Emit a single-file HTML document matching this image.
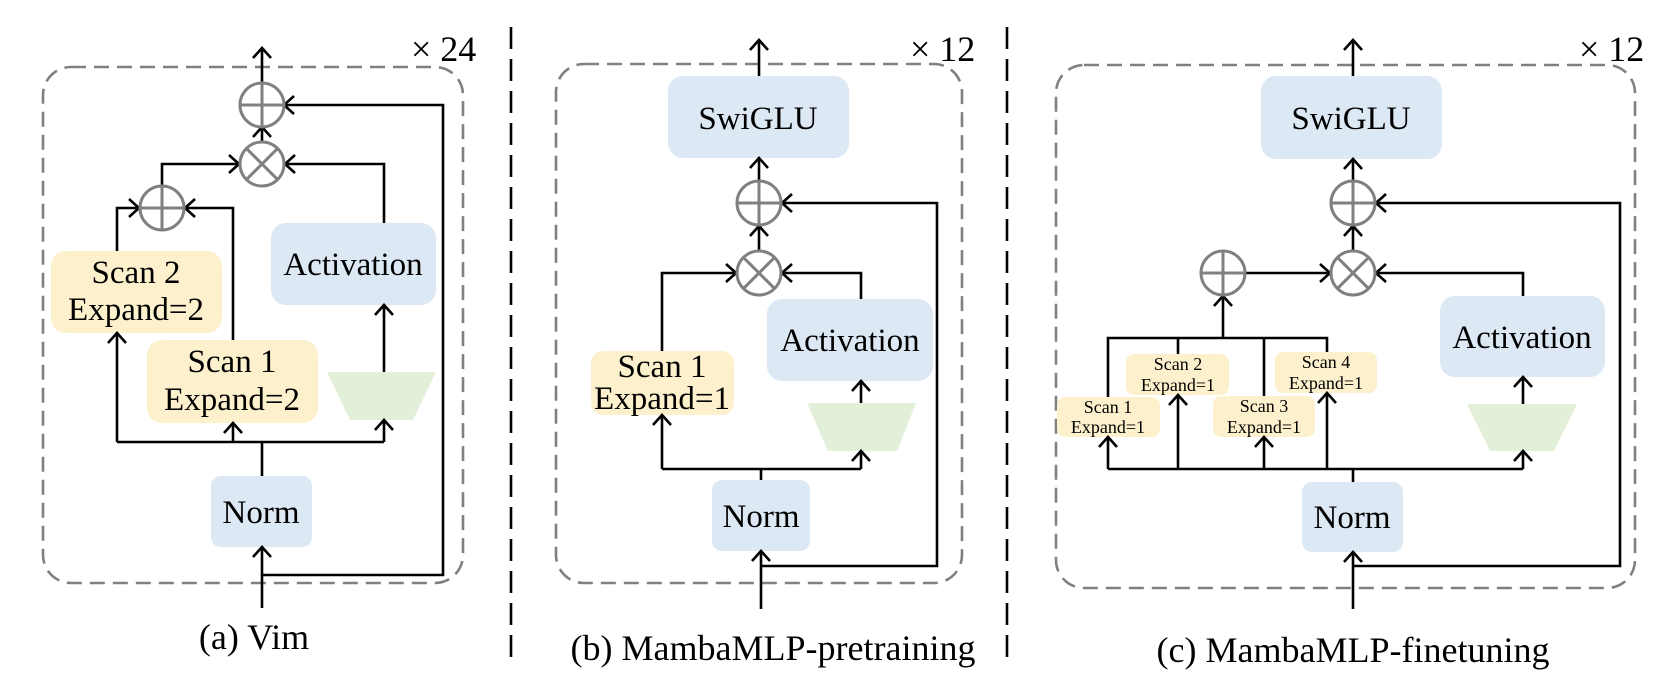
<!DOCTYPE html>
<html><head><meta charset="utf-8"><style>
html,body{margin:0;padding:0;background:#fff;}
svg{display:block;}
text{font-family:"Liberation Serif","DejaVu Serif",serif;fill:#000;}
</style></head><body>
<svg width="1675" height="682" viewBox="0 0 1675 682" xmlns="http://www.w3.org/2000/svg" font-family="Liberation Serif, DejaVu Serif, serif">
<defs>
<marker id="ar" viewBox="0 0 20 20" refX="17" refY="10" markerWidth="20" markerHeight="20" markerUnits="userSpaceOnUse" orient="auto">
<polyline points="7,1 17,10 7,19" fill="none" stroke="#000" stroke-width="2.6"/>
</marker>
</defs>
<g fill="none" stroke="#000" stroke-width="2.6">
<line x1="511" y1="27" x2="511" y2="660" stroke-dasharray="22,10"/>
<line x1="1007" y1="27" x2="1007" y2="660" stroke-dasharray="22,10"/>
</g>
<g fill="none" stroke="#808080" stroke-width="2.6" stroke-dasharray="15,8">
<rect x="43" y="67" width="420" height="516" rx="28"/>
<rect x="556" y="64" width="406" height="519" rx="28"/>
<rect x="1056" y="65" width="579" height="523" rx="28"/>
</g>
<g>
<rect x="51" y="251" width="171" height="82" rx="15" fill="#fdf1cd"/>
<rect x="147" y="340" width="171" height="83" rx="15" fill="#fdf1cd"/>
<rect x="271" y="223" width="165" height="82" rx="15" fill="#dde8f5"/>
<rect x="211" y="476" width="101" height="71" rx="10" fill="#dde8f5"/>
<polygon points="327,372 436,372 413,420 350,420" fill="#e2efd9"/>

<rect x="668" y="76" width="181" height="82" rx="15" fill="#dde8f5"/>
<rect x="591" y="351" width="143" height="64" rx="12" fill="#fdf1cd"/>
<rect x="767" y="299" width="166" height="82" rx="15" fill="#dde8f5"/>
<rect x="712" y="480" width="98" height="71" rx="10" fill="#dde8f5"/>
<polygon points="807,403 916,403 897,451 828,451" fill="#e2efd9"/>

<rect x="1261" y="76" width="181" height="83" rx="15" fill="#dde8f5"/>
<rect x="1440" y="296" width="165" height="81" rx="15" fill="#dde8f5"/>
<rect x="1302" y="482" width="101" height="70" rx="10" fill="#dde8f5"/>
<polygon points="1467,404 1577,404 1554,451 1490,451" fill="#e2efd9"/>
<rect x="1057" y="397" width="103" height="40" rx="8" fill="#fdf1cd"/>
<rect x="1126" y="354" width="103" height="41" rx="8" fill="#fdf1cd"/>
<rect x="1213" y="396" width="102" height="41" rx="8" fill="#fdf1cd"/>
<rect x="1275" y="352" width="102" height="41" rx="8" fill="#fdf1cd"/>
</g>
<g fill="none" stroke="#000" stroke-width="2.6">
<polyline points="262,82 262,48" marker-end="url(#ar)"/>
<polyline points="262,141 262,127" marker-end="url(#ar)"/>
<polyline points="262,608 262,547" marker-end="url(#ar)"/>
<polyline points="262,476 262,442"/>
<polyline points="117,442 384,442"/>
<polyline points="117,442 117,333" marker-end="url(#ar)"/>
<polyline points="233,442 233,423" marker-end="url(#ar)"/>
<polyline points="384,442 384,420" marker-end="url(#ar)"/>
<polyline points="384,372 384,305" marker-end="url(#ar)"/>
<polyline points="384,223 384,164 285,164" marker-end="url(#ar)"/>
<polyline points="117,251 117,208 139,208" marker-end="url(#ar)"/>
<polyline points="233,340 233,208 185,208" marker-end="url(#ar)"/>
<polyline points="162,185 162,164 239,164" marker-end="url(#ar)"/>
<polyline points="262,575 443,575 443,105 284,105" marker-end="url(#ar)"/>

<polyline points="759,76 759,40" marker-end="url(#ar)"/>
<polyline points="759,180 759,158" marker-end="url(#ar)"/>
<polyline points="759,250 759,226" marker-end="url(#ar)"/>
<polyline points="761,609 761,551" marker-end="url(#ar)"/>
<polyline points="761,480 761,469"/>
<polyline points="662,469 861,469"/>
<polyline points="662,469 662,415" marker-end="url(#ar)"/>
<polyline points="861,469 861,451" marker-end="url(#ar)"/>
<polyline points="861,403 861,381" marker-end="url(#ar)"/>
<polyline points="861,299 861,273 782,273" marker-end="url(#ar)"/>
<polyline points="662,351 662,273 736,273" marker-end="url(#ar)"/>
<polyline points="761,566 937,566 937,203 782,203" marker-end="url(#ar)"/>

<polyline points="1353,76 1353,40" marker-end="url(#ar)"/>
<polyline points="1353,180 1353,159" marker-end="url(#ar)"/>
<polyline points="1353,250 1353,226" marker-end="url(#ar)"/>
<polyline points="1353,609 1353,552" marker-end="url(#ar)"/>
<polyline points="1353,482 1353,469"/>
<polyline points="1108,469 1523,469"/>
<polyline points="1108,469 1108,437" marker-end="url(#ar)"/>
<polyline points="1178,469 1178,395" marker-end="url(#ar)"/>
<polyline points="1264,469 1264,437" marker-end="url(#ar)"/>
<polyline points="1327,469 1327,393" marker-end="url(#ar)"/>
<polyline points="1523,469 1523,451" marker-end="url(#ar)"/>
<polyline points="1523,404 1523,377" marker-end="url(#ar)"/>
<polyline points="1523,296 1523,273 1376,273" marker-end="url(#ar)"/>
<polyline points="1108,397 1108,338 1327,338 1327,352"/>
<polyline points="1178,338 1178,354"/>
<polyline points="1264,338 1264,396"/>
<polyline points="1223,338 1223,296" marker-end="url(#ar)"/>
<polyline points="1246,273 1330,273" marker-end="url(#ar)"/>
<polyline points="1353,566 1620,566 1620,203 1376,203" marker-end="url(#ar)"/>
</g>
<g fill="#fff" stroke="#808080" stroke-width="3">
<circle cx="262" cy="105" r="22"/><path d="M240,105H284M262,83V127"/>
<circle cx="262" cy="164" r="22"/><path d="M246.4,148.4L277.6,179.6M277.6,148.4L246.4,179.6"/>
<circle cx="162" cy="208" r="22"/><path d="M140,208H184M162,186V230"/>

<circle cx="759" cy="203" r="22"/><path d="M737,203H781M759,181V225"/>
<circle cx="759" cy="273" r="22"/><path d="M743.4,257.4L774.6,288.6M774.6,257.4L743.4,288.6"/>

<circle cx="1353" cy="203" r="22"/><path d="M1331,203H1375M1353,181V225"/>
<circle cx="1353" cy="273" r="22"/><path d="M1337.4,257.4L1368.6,288.6M1368.6,257.4L1337.4,288.6"/>
<circle cx="1223" cy="273" r="22"/><path d="M1201,273H1245M1223,251V295"/>
</g>
<g font-size="33" text-anchor="middle" font-family="Liberation Serif, DejaVu Serif, serif">
<text x="136" y="283">Scan 2</text>
<text x="136" y="320">Expand=2</text>
<text x="232" y="372">Scan 1</text>
<text x="232" y="410">Expand=2</text>
<text x="353" y="275">Activation</text>
<text x="261" y="523">Norm</text>

<text x="758" y="129">SwiGLU</text>
<text x="662" y="377">Scan 1</text>
<text x="662" y="409">Expand=1</text>
<text x="850" y="351">Activation</text>
<text x="761" y="527">Norm</text>

<text x="1351" y="129">SwiGLU</text>
<text x="1522" y="348">Activation</text>
<text x="1352" y="528">Norm</text>
</g>
<g font-size="18" text-anchor="middle" font-family="Liberation Serif, DejaVu Serif, serif">
<text x="1108" y="413">Scan 1</text>
<text x="1108" y="433">Expand=1</text>
<text x="1178" y="370">Scan 2</text>
<text x="1178" y="391">Expand=1</text>
<text x="1264" y="412">Scan 3</text>
<text x="1264" y="433">Expand=1</text>
<text x="1326" y="368">Scan 4</text>
<text x="1326" y="389">Expand=1</text>
</g>
<g font-size="36" font-family="Liberation Serif, DejaVu Serif, serif">
<text x="411" y="61">× 24</text>
<text x="910" y="61">× 12</text>
<text x="1579" y="61">× 12</text>
</g>
<g font-size="36" text-anchor="middle" font-family="Liberation Serif, DejaVu Serif, serif">
<text x="254" y="649">(a) Vim</text>
<text x="773" y="660">(b) MambaMLP-pretraining</text>
<text x="1353" y="662">(c) MambaMLP-finetuning</text>
</g>
</svg>
</body></html>
